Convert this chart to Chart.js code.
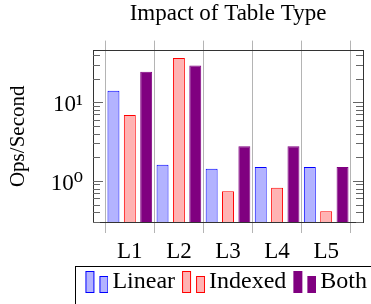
<!DOCTYPE html>
<html><head><meta charset="utf-8">
<script src="https://cdn.jsdelivr.net/npm/chart.js@4/dist/chart.umd.min.js"></script>
<style>html,body{margin:0;padding:0;background:#fff}#wrap{width:371px;height:304px}</style>
</head><body><div id="wrap"><canvas id="c"></canvas></div>
<script>
/* dati (asse y logaritmico) */
const categories = ['L1', 'L2', 'L3', 'L4', 'L5'];
const seriesNames = ['Linear', 'Indexed', 'Both'];
const linearOps = [14.0, 1.61, 1.43, 1.50, 1.50];
const indexedOps = [6.9, 36.5, 0.74, 0.82, 0.41];
const bothOps = [24.4, 29.3, 2.76, 2.76, 1.50];
const yMin = 0.325, yMax = 45.4;
const yTickLabels = { 0: '10⁰', 1: '10¹' };

const SERIF = "'Liberation Serif', 'DejaVu Serif', serif";
const FRAME = '#333', GRID = '#b4b4b4', TICK = '#666';
const colors = [
  { fill: '#b3b3ff', line: '#0000ff' },
  { fill: '#ffb3b3', line: '#ff0000' },
  { fill: '#800080', line: '#800080' },
];

Chart.defaults.font.family = SERIF;
Chart.defaults.color = '#000';

/* icona legenda: due barrette come in pgfplots */
function barIcon(c) {
  const cv = document.createElement('canvas');
  cv.width = 34; cv.height = 22;
  const g = cv.getContext('2d');
  g.fillStyle = c.fill; g.strokeStyle = c.line; g.lineWidth = 1;
  [[11.5, 0.5, 8, 21], [25.5, 5.5, 8, 16]].forEach(([x, y, w, h]) => { g.fillRect(x, y, w, h); g.strokeRect(x, y, w, h); });
  return cv;
}
const icons = colors.map(barIcon);

/* margine extra ai lati dell'asse categorie */
const widen = (s) => { s._startValue -= 0.25; s._valueRange += 0.5; };
const isNice = (v) => { const p = Math.pow(10, Math.floor(Math.log10(v) + 1e-9)); const r = v / p; return Math.abs(r - Math.round(r)) < 1e-6; };

/* tacche interne sull'asse log + riquadro della legenda */
const decor = {
  id: 'decor',
  afterDraw(chart) {
    const { ctx, chartArea: a, scales: { y } } = chart;
    ctx.save();
    ctx.lineWidth = 1; ctx.strokeStyle = TICK;
    ctx.beginPath();
    y.ticks.forEach((t) => {
      const py = Math.round(y.getPixelForValue(t.value)) + 0.5;
      const len = t.major ? 10 : 7;
      ctx.moveTo(a.left, py); ctx.lineTo(a.left + len, py);
      ctx.moveTo(a.right, py); ctx.lineTo(a.right - len, py);
    });
    ctx.stroke();
    const lg = chart.legend, hb = lg.legendHitBoxes[0];
    ctx.strokeStyle = '#000';
    ctx.strokeRect(Math.round(hb.left - 7) + 0.5, Math.round(lg.top) + 0.5, 400, 100);
    ctx.restore();
  },
};

const values = [linearOps, indexedOps, bothOps];
new Chart(document.getElementById('c'), {
  type: 'bar',
  data: {
    labels: categories,
    datasets: seriesNames.map((name, i) => ({
      label: name, data: values[i], backgroundColor: colors[i].fill, borderColor: colors[i].line, borderWidth: 1,
    })),
  },
  options: {
    responsive: true, maintainAspectRatio: false, animation: false,
    layout: { padding: 0 },
    datasets: { bar: { barPercentage: 0.73, categoryPercentage: 1 } },
    plugins: {
      title: {
        display: true, fullSize: false, text: 'Impact of Table Type', color: '#000',
        font: { size: 23, weight: 'normal' }, padding: { top: 0, bottom: 13 },
      },
      legend: {
        position: 'bottom', align: 'end',
        labels: {
          usePointStyle: true, pointStyleWidth: 18, padding: 4, color: '#000', font: { size: 24 },
          generateLabels: (chart) => Chart.defaults.plugins.legend.labels.generateLabels(chart).map((it, i) => ({ ...it, pointStyle: icons[i] })),
        },
      },
      tooltip: { enabled: false },
    },
    scales: {
      x: {
        type: 'category', offset: true, afterBuildTicks: widen,
        afterFit: (s) => { s.height = 44; },
        grid: { offset: true, color: GRID, tickColor: GRID, tickLength: 11 },
        border: { color: FRAME },
        ticks: { color: '#000', font: { size: 23 }, padding: 5, maxRotation: 0 },
      },
      x2: {
        type: 'category', position: 'top', offset: true, afterBuildTicks: widen,
        grid: { offset: true, drawOnChartArea: false, color: GRID, tickLength: 10 },
        border: { color: FRAME },
        ticks: { display: false },
      },
      y: {
        type: 'logarithmic', min: yMin, max: yMax,
        afterBuildTicks: (s) => { s.ticks = s.ticks.filter((t) => isNice(t.value)); },
        afterFit: (s) => { s.width = 93; },
        grid: { display: false, drawTicks: false },
        border: { color: FRAME },
        title: { display: true, text: 'Ops/Second', color: '#000', font: { size: 21 }, padding: { top: 6, bottom: 0 } },
        ticks: {
          autoSkip: false, padding: 10, labelOffset: 3, color: '#000', font: { size: 23 },
          callback: (v) => { const e = Math.log10(v); return Math.abs(e - Math.round(e)) < 1e-9 ? (yTickLabels[Math.round(e)] || '') : ''; },
        },
      },
      y2: {
        type: 'logarithmic', position: 'right', min: yMin, max: yMax,
        afterFit: (s) => { s.width = 8; },
        grid: { display: false, drawTicks: false },
        border: { color: FRAME },
        ticks: { display: false },
      },
    },
  },
  plugins: [decor],
});
</script>
</body></html>
